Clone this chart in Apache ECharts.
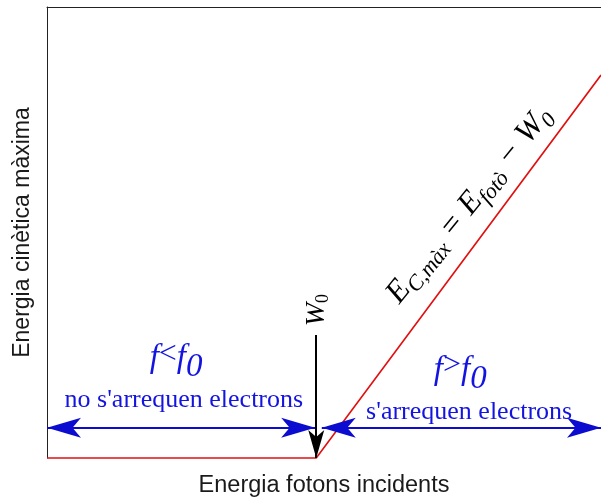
<!DOCTYPE html>
<html><head><meta charset="utf-8">
<script src="https://cdn.jsdelivr.net/npm/echarts@6/dist/echarts.min.js"></script>
<style>html,body{margin:0;padding:0;background:#fff}#c{width:601px;height:500px}</style>
</head><body><div id="c"></div>
<script>
// ---- data ----
const photonEnergy = [0, 4.86, 10];      // x values of the red curve
const kineticEnergy = [0, 0, 8.49];      // y values of the red curve
const thresholdX = 4.86;                 // W0 position on the x axis
const arrowLevel = 0.67;                 // height of the blue range arrows
const leftRange = [0, 4.84];             // f < f0 region
const rightRange = [4.96, 10];           // f > f0 region
const w0ArrowTop = 2.73;                 // top of the black W0 arrow
const xMax = 10, yMax = 10;
const xTitle = 'Energia fotons incidents';
const yTitle = 'Energia cinètica màxima';
const labelTexts = [
  '{fi|f}{fop|<}{fi|f}{fsub|0}',
  '{t|no s\'arrequen electrons}',
  '{fi|f}{fop|>}{fi|f}{fsub|0}',
  '{t|s\'arrequen electrons}',
  '{w|W}{ws|0}',
  '{e|E}{es|C,màx}{e| = E}{es|fotò}{e| − W}{es|0}'
];
const labelAnchors = [[2.33, 2.20], [2.47, 1.29], [7.46, 1.95], [7.62, 1.02], [4.86, 3.28], [7.62, 5.61]];
const labelRotations = [0, 0, 0, 0, 90, 51];

const blue = '#1414e0';
const serif = 'Liberation Serif';
const tok = (o) => Object.assign({fontFamily: serif, textBorderWidth: 0, textBorderColor: 'transparent', textShadowBlur: 0}, o);
const rich = {
  fi: tok({fontStyle: 'italic', fontSize: 33, lineHeight: 36, color: blue}),
  fop: tok({fontSize: 32, lineHeight: 32, padding: [0, 0, 8, 0], color: blue}),
  fsub: tok({fontStyle: 'italic', fontSize: 33, lineHeight: 32, padding: [18, 0, 0, 0], color: blue}),
  t: tok({fontSize: 26, lineHeight: 30, color: blue}),
  w: tok({fontStyle: 'italic', fontSize: 28, lineHeight: 32, color: '#000'}),
  ws: tok({fontSize: 18, lineHeight: 18, padding: [14, 0, 0, 0], color: '#000'}),
  e: tok({fontStyle: 'italic', fontSize: 32, lineHeight: 40, color: '#000'}),
  es: tok({fontStyle: 'italic', fontSize: 22, lineHeight: 22, padding: [18, 0, 0, 0], color: '#000'})
};

const chart = echarts.init(document.getElementById('c'));
const arrowEnd = (size) => ({symbol: 'arrow', symbolSize: size});

chart.setOption({
  animation: false,
  grid: {left: 47, top: 7, right: 0, bottom: 42, outerBoundsMode: 'none', containLabel: false},
  xAxis: [{
    type: 'value', min: 0, max: xMax,
    name: xTitle, nameLocation: 'middle', nameGap: 16,
    nameTextStyle: {fontFamily: 'Liberation Sans', fontSize: 23.5, color: '#1a1a1a'},
    axisLine: {show: false}, axisTick: {show: false}, axisLabel: {show: false}, splitLine: {show: false}
  }, {
    type: 'value', min: 0, max: xMax, position: 'top',
    axisLine: {show: true, lineStyle: {color: '#222', width: 1}},
    axisTick: {show: false}, axisLabel: {show: false}, splitLine: {show: false}
  }],
  yAxis: {
    type: 'value', min: 0, max: yMax,
    name: yTitle, nameLocation: 'middle', nameGap: 13,
    nameTextStyle: {fontFamily: 'Liberation Sans', fontSize: 23, color: '#1a1a1a'},
    axisLine: {show: true, lineStyle: {color: '#222', width: 1}},
    axisTick: {show: false}, axisLabel: {show: false}, splitLine: {show: false}
  },
  series: [{
    type: 'line',
    data: photonEnergy.map((x, i) => [x, kineticEnergy[i]]),
    symbol: 'none', clip: false, silent: true,
    lineStyle: {color: '#e01010', width: 1.6},
    z: 3
  }, {
    type: 'line', data: [], silent: true,
    markLine: {
      silent: true, animation: false, label: {show: false},
      lineStyle: {color: '#0c0cd0', width: 2, type: 'solid'},
      emphasis: {disabled: true},
      data: [
        [Object.assign({coord: [leftRange[0], arrowLevel]}, arrowEnd([15, 34])),
         Object.assign({coord: [leftRange[1], arrowLevel]}, arrowEnd([15, 34]))],
        [Object.assign({coord: [rightRange[0], arrowLevel]}, arrowEnd([15, 34])),
         Object.assign({coord: [rightRange[1], arrowLevel]}, arrowEnd([15, 34]))]
      ]
    },
    z: 4
  }, {
    type: 'line', data: [], silent: true,
    markLine: {
      silent: true, animation: false, label: {show: false},
      lineStyle: {color: '#000', width: 2, type: 'solid'},
      emphasis: {disabled: true},
      data: [[{coord: [thresholdX, w0ArrowTop], symbol: 'none'},
              Object.assign({coord: [thresholdX, 0]}, arrowEnd([12, 28]))]]
    },
    z: 5
  }, {
    type: 'scatter', silent: true, symbolSize: 1,
    itemStyle: {color: 'rgba(0,0,0,0)'},
    data: labelAnchors.map((p, i) => ({
      value: p,
      label: {show: true, position: 'inside', formatter: labelTexts[i], rotate: labelRotations[i],
              textBorderWidth: 0, textBorderColor: 'transparent', opacity: 1, rich: rich}
    })),
    z: 6
  }]
});
</script></body></html>
